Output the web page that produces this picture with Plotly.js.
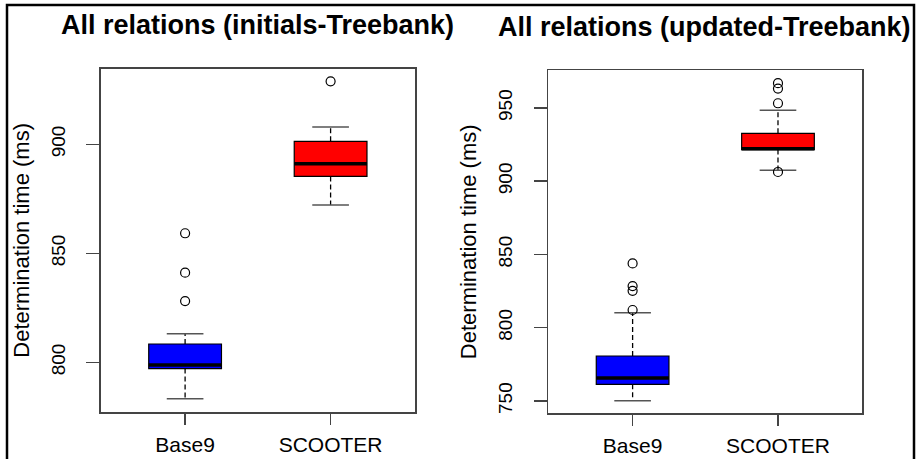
<!DOCTYPE html>
<html>
<head>
<meta charset="utf-8">
<script src="https://cdn.plot.ly/plotly-3.0.1.min.js"></script>
<style>
  html, body { margin: 0; padding: 0; background: #fff; }
  #chart { width: 917px; height: 459px; }
</style>
</head>
<body>
<div id="chart"></div>
<script>
// ---------- data ----------
const categories = ['Base9', 'SCOOTER'];
const boxColors = ['#0000FF', '#FF0000'];

// Left panel: All relations (initials-Treebank)
const initLowerWhisker = [783.3, 872.2];
const initQ1 = [797.1, 885.3];
const initMedian = [798.8, 891.1];
const initQ3 = [808.4, 901.4];
const initUpperWhisker = [813.1, 907.9];
const initOutliers = [[828.1, 841.1, 859.2], [928.9]];

// Right panel: All relations (updated-Treebank)
const updLowerWhisker = [750.2, 907.4];
const updQ1 = [761.4, 921.6];
const updMedian = [765.7, 922.2];
const updQ3 = [780.7, 932.7];
const updUpperWhisker = [810.2, 948.4];
const updOutliers = [[812.1, 825.2, 828.4, 843.9], [906.3, 953.2, 963.2, 966.9]];

const panelTitles = ['All relations (initials-Treebank)', 'All relations (updated-Treebank)'];
const yTitle = 'Determination time (ms)';
const leftTicks = [800, 850, 900];
const rightTicks = [750, 800, 850, 900, 950];

// ---------- build ----------
const positions = categories.map((c, i) => i + 1);
const BOX_W = 0.5;
const CAP_HALF = 0.126;

function panelTraces(lw, q1, med, q3, uw, outl, xa, ya) {
  const traces = [];
  positions.forEach((p, i) => {
    traces.push({
      type: 'box', x: [p], q1: [q1[i]], median: [med[i]], q3: [q3[i]],
      lowerfence: [q1[i]], upperfence: [q3[i]],
      width: BOX_W, whiskerwidth: 0,
      fillcolor: boxColors[i], line: {color: '#000', width: 1.2},
      xaxis: xa, yaxis: ya, hoverinfo: 'skip', showlegend: false, name: categories[i]
    });
  });
  // dashed whiskers
  const wx = [], wy = [];
  positions.forEach((p, i) => {
    wx.push(p, p, null, p, p, null);
    wy.push(q3[i], uw[i], null, q1[i], lw[i], null);
  });
  traces.push({type: 'scatter', mode: 'lines', x: wx, y: wy,
    line: {color: '#000', width: 1.3, dash: '5px,3px'}, xaxis: xa, yaxis: ya,
    hoverinfo: 'skip', showlegend: false});
  // caps
  const cx = [], cy = [];
  positions.forEach((p, i) => {
    cx.push(p - CAP_HALF, p + CAP_HALF, null, p - CAP_HALF, p + CAP_HALF, null);
    cy.push(uw[i], uw[i], null, lw[i], lw[i], null);
  });
  traces.push({type: 'scatter', mode: 'lines', x: cx, y: cy,
    line: {color: '#555', width: 1.5}, xaxis: xa, yaxis: ya,
    hoverinfo: 'skip', showlegend: false});
  // thick medians
  const mx = [], my = [];
  positions.forEach((p, i) => {
    mx.push(p - BOX_W / 2, p + BOX_W / 2, null);
    my.push(med[i], med[i], null);
  });
  traces.push({type: 'scatter', mode: 'lines', x: mx, y: my,
    line: {color: '#000', width: 3.5}, xaxis: xa, yaxis: ya,
    hoverinfo: 'skip', showlegend: false});
  // outliers
  const ox = [], oy = [];
  positions.forEach((p, i) => {
    outl[i].forEach(v => { ox.push(p); oy.push(v); });
  });
  traces.push({type: 'scatter', mode: 'markers', x: ox, y: oy,
    marker: {symbol: 'circle-open', size: 9, color: '#000', line: {width: 1.2, color: '#000'}},
    xaxis: xa, yaxis: ya, hoverinfo: 'skip', showlegend: false});
  return traces;
}

const data = [].concat(
  panelTraces(initLowerWhisker, initQ1, initMedian, initQ3, initUpperWhisker, initOutliers, 'x', 'y'),
  panelTraces(updLowerWhisker, updQ1, updMedian, updQ3, updUpperWhisker, updOutliers, 'x2', 'y2')
);

const W = 917, H = 459;
const FAM = '"Liberation Sans", Arial, sans-serif';
const NARROW = '"Liberation Sans Narrow", "Arial Narrow", "Liberation Sans", Arial, sans-serif';
const tickFontY = {family: NARROW, size: 19, color: '#000'};
const tickFontX = {family: FAM, size: 21, color: '#000'};
const titleFontY = {family: NARROW, size: 22, color: '#000'};

function xAxis(dom) {
  return {
    domain: dom, range: [0.42, 2.58], tickvals: positions, ticktext: categories,
    ticks: 'outside', ticklen: 11, tickcolor: '#444', tickwidth: 1.5,
    showline: true, mirror: true, linecolor: '#444', linewidth: 1.5,
    showgrid: false, zeroline: false, tickfont: tickFontX, ticklabelstandoff: 2,
    fixedrange: true
  };
}
function yAxis(dom, range, ticks, anchor) {
  return {
    domain: dom, range: range, tickvals: ticks, ticktext: ticks.map(String),
    ticks: 'outside', ticklen: 13, tickcolor: '#444', tickwidth: 1.5,
    showline: true, mirror: true, linecolor: '#444', linewidth: 1.5,
    showgrid: false, zeroline: false, tickangle: -90, tickfont: tickFontY,
    ticklabelstandoff: 14,
    title: {text: yTitle, font: titleFontY, standoff: 12},
    anchor: anchor, fixedrange: true
  };
}

const layout = {
  width: W, height: H,
  margin: {l: 0, r: 0, t: 0, b: 0},
  paper_bgcolor: '#fff', plot_bgcolor: '#fff',
  boxmode: 'overlay', showlegend: false,
  xaxis: xAxis([100.7 / W, 415 / W]),
  yaxis: yAxis([1 - 412 / H, 1 - 68.7 / H], [777.2, 934.7], leftTicks, 'x'),
  xaxis2: Object.assign(xAxis([548.3 / W, 862.3 / W]), {anchor: 'y2'}),
  yaxis2: yAxis([1 - 413.3 / H, 1 - 70.3 / H], [741.6, 975.7], rightTicks, 'x2'),
  annotations: [
    {text: '<b>' + panelTitles[0] + '</b>', xref: 'paper', yref: 'paper',
     x: 257 / W, y: 1 - 25 / H, xanchor: 'center', yanchor: 'middle', showarrow: false,
     font: {family: FAM, size: 27, color: '#000'}},
    {text: '<b>' + panelTitles[1] + '</b>', xref: 'paper', yref: 'paper',
     x: 704 / W, y: 1 - 27 / H, xanchor: 'center', yanchor: 'middle', showarrow: false,
     font: {family: FAM, size: 27, color: '#000'}}
  ],
  shapes: [
    {type: 'rect', xref: 'paper', yref: 'paper', x0: 7 / W, x1: 914 / W, y0: -0.05, y1: 1 - 5 / H,
     line: {color: '#000', width: 2.5}, fillcolor: 'rgba(0,0,0,0)', layer: 'above'}
  ]
};

Plotly.newPlot('chart', data, layout, {displayModeBar: false, staticPlot: true});
</script>
</body>
</html>
